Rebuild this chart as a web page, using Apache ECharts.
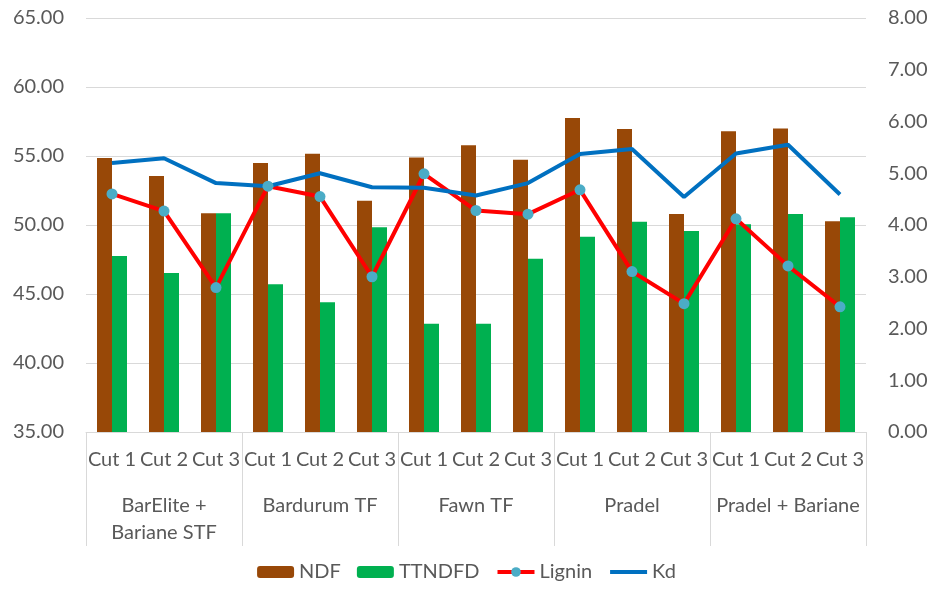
<!DOCTYPE html>
<html>
<head>
    <meta charset="utf-8">
    <title>NDF / TTNDFD / Lignin / Kd</title>
    <script src="https://cdn.jsdelivr.net/npm/echarts@6/dist/echarts.min.js"></script>
</head>
<body style="margin:0">
    <div id="main" style="width: 933px;height:589px;"></div>

    <script type="text/javascript">
        // categories (two levels)
        var cuts = ['Cut 1', 'Cut 2', 'Cut 3', 'Cut 1', 'Cut 2', 'Cut 3', 'Cut 1', 'Cut 2', 'Cut 3',
                    'Cut 1', 'Cut 2', 'Cut 3', 'Cut 1', 'Cut 2', 'Cut 3'];
        var groups = ['BarElite +\nBariane STF', 'Bardurum TF', 'Fawn TF', 'Pradel', 'Pradel + Bariane'];

        // left axis series
        var ndf    = [54.86, 53.55, 50.85, 54.5, 55.17, 51.76, 54.9, 55.77, 54.73, 57.75, 56.96, 50.8, 56.8, 57.0, 50.27];
        var ttndfd = [47.75, 46.52, 50.85, 45.7, 44.4, 49.83, 42.85, 42.85, 47.56, 49.15, 50.24, 49.57, 50.05, 50.8, 50.56];

        // right axis series
        var lignin = [4.60, 4.27, 2.79, 4.75, 4.55, 3.00, 4.99, 4.28, 4.21, 4.68, 3.10, 2.48, 4.12, 3.21, 2.42];
        var kd     = [5.20, 5.29, 4.81, 4.75, 5.00, 4.73, 4.72, 4.57, 4.81, 5.37, 5.47, 4.54, 5.38, 5.55, 4.59];

        var font = 'Lato, "Noto Sans", sans-serif';
        var txt = '#595959';
        var gridColor = '#d9d9d9';

        var myChart = echarts.init(document.getElementById('main'));

        var option = {
            animation: false,
            textStyle: {fontFamily: font},
            grid: {left: 86, right: 67, top: 18, bottom: 157, containLabel: false},
            legend: {
                bottom: 2,
                left: 'center',
                itemWidth: 37,
                itemHeight: 12,
                itemGap: 16,
                lineStyle: {width: 4},
                textStyle: {fontSize: 20, color: txt, fontFamily: font},
                data: ['NDF', 'TTNDFD', 'Lignin', 'Kd']
            },
            xAxis: [
                {
                    type: 'category',
                    data: cuts,
                    position: 'bottom',
                    axisLine: {lineStyle: {color: gridColor, width: 1}},
                    axisTick: {show: false},
                    axisLabel: {interval: 0, color: txt, fontSize: 20, margin: 18, fontFamily: font}
                },
                {
                    type: 'category',
                    data: groups,
                    position: 'bottom',
                    axisLine: {show: false},
                    axisTick: {show: true, length: 114, interval: 0, lineStyle: {color: gridColor}},
                    axisLabel: {interval: 0, color: txt, fontSize: 20, margin: 60, lineHeight: 27, fontFamily: font}
                }
            ],
            yAxis: [
                {
                    type: 'value',
                    min: 35, max: 65, interval: 5,
                    axisLine: {show: false},
                    axisTick: {show: false},
                    splitLine: {lineStyle: {color: gridColor, width: 1}},
                    axisLabel: {
                        color: txt, fontSize: 20, margin: 22, fontFamily: font,
                        formatter: function (v) { return v.toFixed(2); }
                    }
                },
                {
                    type: 'value',
                    min: 0, max: 8, interval: 1,
                    position: 'right',
                    axisLine: {show: false},
                    axisTick: {show: false},
                    splitLine: {show: false},
                    axisLabel: {
                        color: txt, fontSize: 20, margin: 22, fontFamily: font,
                        formatter: function (v) { return v.toFixed(2); }
                    }
                }
            ],
            series: [
                {
                    name: 'NDF', type: 'bar', data: ndf,
                    barWidth: 15, barGap: '0%',
                    itemStyle: {color: '#984807'}
                },
                {
                    name: 'TTNDFD', type: 'bar', data: ttndfd,
                    barWidth: 15, barGap: '0%',
                    itemStyle: {color: '#00b050'}
                },
                {
                    name: 'Lignin', type: 'line', data: lignin, yAxisIndex: 1,
                    symbol: 'circle', symbolSize: 11,
                    lineStyle: {color: '#ff0000', width: 4},
                    itemStyle: {color: '#4bacc6', borderWidth: 0}
                },
                {
                    // no markers; transparent item colour keeps the legend icon a plain line
                    name: 'Kd', type: 'line', data: kd, yAxisIndex: 1,
                    symbol: 'none',
                    lineStyle: {color: '#0070c0', width: 4},
                    itemStyle: {color: 'rgba(0,0,0,0)'}
                }
            ]
        };

        myChart.setOption(option);
    </script>
</body>
</html>
